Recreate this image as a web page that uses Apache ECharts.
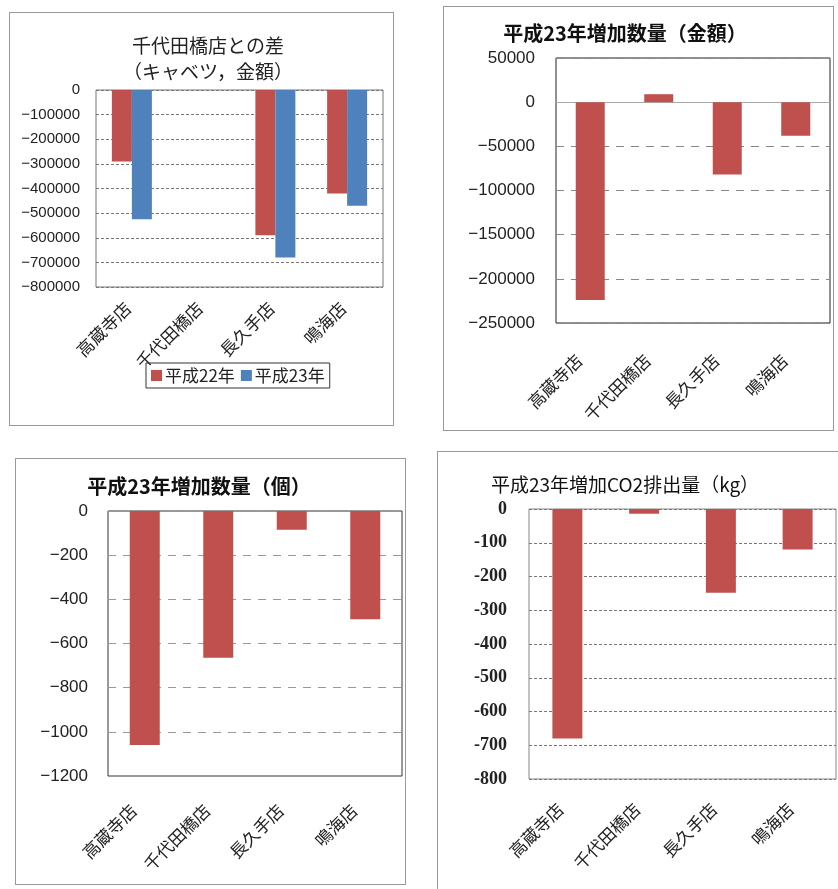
<!DOCTYPE html>
<html>
<head>
<meta charset="utf-8">
<script src="https://cdn.jsdelivr.net/npm/echarts@6/dist/echarts.min.js"></script>
<style>
  body { margin: 0; background: #fff; }
  .panel { position: absolute; box-sizing: border-box; border: 1px solid #999; background: #fff; }
</style>
</head>
<body>
<div id="p1" class="panel" style="left:9px;top:12px;width:385px;height:414px;"></div>
<div id="p2" class="panel" style="left:443px;top:6px;width:391px;height:425px;"></div>
<div id="p3" class="panel" style="left:15px;top:458px;width:391px;height:427px;"></div>
<div id="p4" class="panel" style="left:437px;top:451px;width:412px;height:445px;"></div>
<script>
// 店舗
const stores = ['高蔵寺店', '千代田橋店', '長久手店', '鳴海店'];

// 千代田橋店との差（キャベツ，金額）
const diffH22 = [-290000, 0, -590000, -420000];
const diffH23 = [-525000, 0, -680000, -470000];

// 平成23年増加数量（金額）
const incAmount = [-224000, 9000, -82000, -38000];

// 平成23年増加数量（個）
const incCount = [-1060, -665, -85, -490];

// 平成23年増加CO2排出量（kg）
const incCO2 = [-680, -14, -248, -120];

const RED = '#C0504D';
const BLUE = '#4F81BD';
const JP = "'Noto Sans CJK JP', sans-serif";
const NUM = "'Liberation Sans', 'Noto Sans CJK JP', sans-serif";

const minus = v => String(v).replace('-', '\u2212');

function xAxisOpt(fontSize, margin, shift) {
  return {
    type: 'category',
    data: stores,
    axisTick: { show: false },
    axisLine: { show: false },
    axisLabel: {
      interval: 0, rotate: 45, fontSize: fontSize, fontFamily: JP, color: '#222',
      margin: margin, padding: [0, shift, 0, 0]
    }
  };
}

// 千代田橋店との差
let chart1 = echarts.init(document.getElementById('p1'));
chart1.setOption({
  animation: false,
  title: {
    text: '千代田橋店との差\n（キャベツ，金額）',
    left: 193, textAlign: 'center',
    top: 15,
    textStyle: { fontSize: 19, fontWeight: 'normal', color: '#222', fontFamily: JP, lineHeight: 26 }
  },
  legend: {
    data: ['平成22年', '平成23年'],
    left: 136,
    top: 350,
    itemWidth: 11,
    itemHeight: 11,
    itemGap: 6,
    padding: [4, 5],
    borderColor: '#333',
    borderWidth: 1,
    icon: 'rect',
    textStyle: { fontSize: 17, color: '#222', fontFamily: JP, padding: [0, 0, 0, -2] }
  },
  grid: { left: 86, top: 77, width: 287, height: 197, show: true, borderColor: '#777', borderWidth: 1 },
  xAxis: xAxisOpt(17, 14, 6),
  yAxis: {
    type: 'value', min: -800000, max: 0, interval: 100000,
    axisLine: { show: false }, axisTick: { show: false },
    axisLabel: { fontSize: 15, color: '#222', fontFamily: NUM, margin: 16, formatter: minus },
    splitLine: { lineStyle: { type: [3, 2], color: '#777', width: 1 } }
  },
  series: [
    { name: '平成22年', type: 'bar', data: diffH22, barWidth: 20, barGap: '0%', itemStyle: { color: RED } },
    { name: '平成23年', type: 'bar', data: diffH23, barWidth: 20, barGap: '0%', itemStyle: { color: BLUE } }
  ]
});

// 平成23年増加数量（金額）
let chart2 = echarts.init(document.getElementById('p2'));
chart2.setOption({
  animation: false,
  title: {
    text: '平成23年増加数量（金額）',
    left: 176, textAlign: 'center', top: 11,
    textStyle: { fontSize: 20, fontWeight: 'bold', color: '#111', fontFamily: JP }
  },
  grid: { left: 112, top: 51, width: 274, height: 265, show: true, borderColor: '#222', borderWidth: 1 },
  xAxis: Object.assign(xAxisOpt(17, 23, 16), {
    axisLine: { show: true, onZero: true, lineStyle: { color: '#aaa', width: 1 } }
  }),
  yAxis: {
    type: 'value', min: -250000, max: 50000, interval: 50000,
    axisLine: { show: false }, axisTick: { show: false },
    axisLabel: { fontSize: 17, color: '#222', fontFamily: NUM, margin: 21, formatter: minus },
    splitLine: { lineStyle: { type: [8, 7], color: '#888', width: 1 } }
  },
  series: [
    { type: 'bar', data: incAmount, barWidth: 29, itemStyle: { color: RED } }
  ]
});

// 平成23年増加数量（個）
let chart3 = echarts.init(document.getElementById('p3'));
chart3.setOption({
  animation: false,
  title: {
    text: '平成23年増加数量（個）',
    left: 178, textAlign: 'center', top: 12,
    textStyle: { fontSize: 20, fontWeight: 'bold', color: '#111', fontFamily: JP }
  },
  grid: { left: 92, top: 52, width: 294, height: 265, show: true, borderColor: '#333', borderWidth: 1 },
  xAxis: xAxisOpt(17, 20, 16),
  yAxis: {
    type: 'value', min: -1200, max: 0, interval: 200,
    axisLine: { show: false }, axisTick: { show: false },
    axisLabel: { fontSize: 17, color: '#222', fontFamily: NUM, margin: 20, formatter: minus },
    splitLine: { lineStyle: { type: [8, 7], color: '#999', width: 1 } }
  },
  series: [
    { type: 'bar', data: incCount, barWidth: 30, itemStyle: { color: RED } }
  ]
});

// 平成23年増加CO2排出量（kg）
let chart4 = echarts.init(document.getElementById('p4'));
chart4.setOption({
  animation: false,
  title: {
    text: '平成23年増加CO2排出量（kg）',
    left: 182, textAlign: 'center', top: 18,
    textStyle: { fontSize: 19, fontWeight: 'normal', color: '#111', fontFamily: JP }
  },
  grid: { left: 91, top: 57, width: 307, height: 270, show: true, borderColor: '#888', borderWidth: 1 },
  xAxis: xAxisOpt(17, 20, 10),
  yAxis: {
    type: 'value', min: -800, max: 0, interval: 100,
    axisLine: { show: false }, axisTick: { show: false },
    axisLabel: { fontSize: 18, fontWeight: 'bold', color: '#222', fontFamily: "'Liberation Serif', serif", margin: 22 },
    splitLine: { lineStyle: { type: [3, 2], color: '#777', width: 1 } }
  },
  series: [
    { type: 'bar', data: incCO2, barWidth: 30, itemStyle: { color: RED } }
  ]
});
</script>
</body>
</html>
